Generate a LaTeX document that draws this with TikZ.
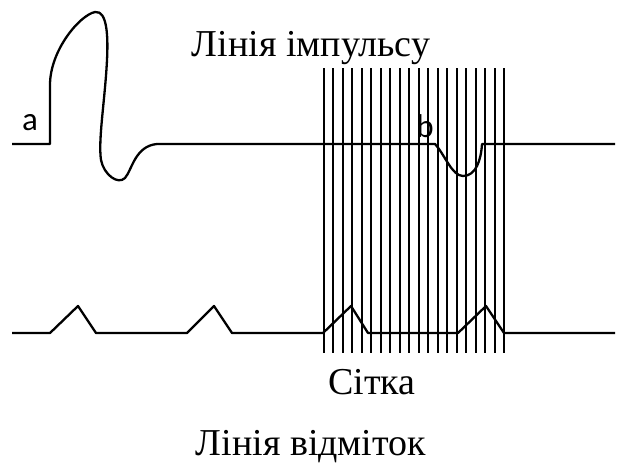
\documentclass[tikz,border=0pt]{standalone}
\usepackage{fontspec}
\setmainfont{Liberation Serif}
\newfontfamily\labfont{Carlito}
\begin{document}
\begin{tikzpicture}[x=1pt,y=-1pt,
  wave/.style={line width=2.3pt,line join=round},
  gridline/.style={line width=2pt},
  title/.style={font=\fontsize{38}{44}\selectfont,inner sep=0pt,anchor=base},
  letter/.style={font=\labfont\fontsize{33}{38}\selectfont,inner sep=0pt,anchor=base}]
\useasboundingbox (0,0) rectangle (617,469);
% grid
\foreach \i in {0,...,19}{
  \draw[gridline] ({324+\i*180/19},68) -- ({324+\i*180/19},353);
}
% impulse line
\draw[wave] (12,144) -- (50,144) -- (50,85)
  .. controls (50,50) and (80,15) .. (95,12)
  .. controls (108,10) and (108,40) .. (107,60)
  .. controls (105,100) and (98,140) .. (101,160)
  .. controls (104,175) and (118,185) .. (125,178)
  .. controls (132,170) and (135,146) .. (157,144)
  -- (435,144)
  .. controls (445,155) and (452,176) .. (463,176)
  .. controls (476,176) and (481,160) .. (482,144)
  -- (615,144);
% marks line
\draw[wave] (12,333) -- (50,333) -- (78,306) -- (96,333) -- (187,333) -- (214,306) -- (232,333)
  -- (323,333) -- (351,306) -- (368,333) -- (458,333) -- (486,306) -- (504,333) -- (615,333);
% texts
\node[title] (t1) at (311,56) {Лінія імпульсу};
\node[title] (t2) at (372,394) {Сітка};
\node[title] (t3) at (311,455) {Лінія відміток};
\node[letter] (la) at (30,130) {a};
\node[letter] (lb) at (425,137) {b};
\end{tikzpicture}
\end{document}
